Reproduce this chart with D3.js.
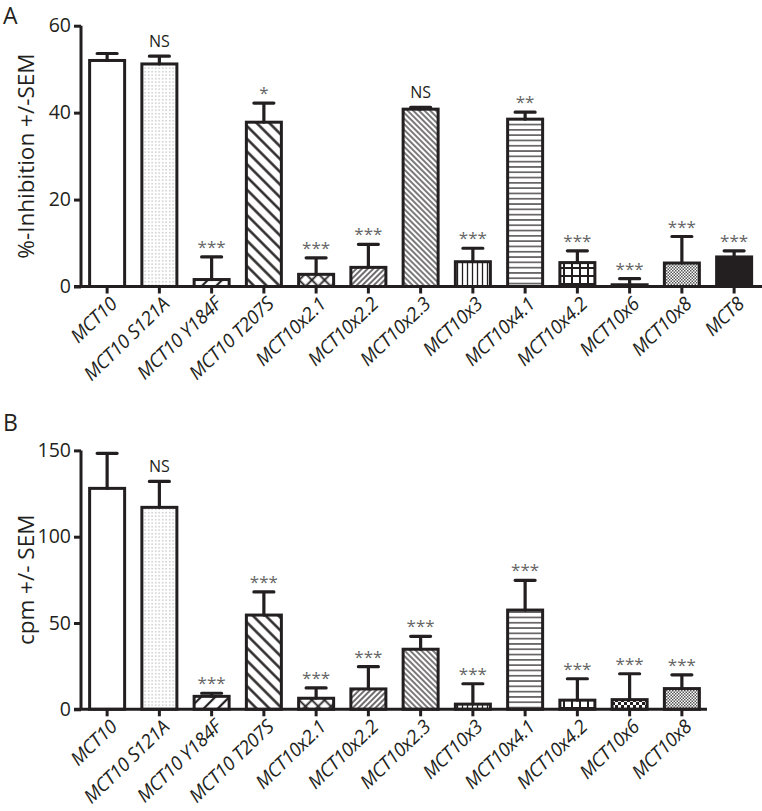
<!DOCTYPE html>
<html><head><meta charset="utf-8">
<script src="https://cdn.jsdelivr.net/npm/d3@7"></script>
<style>body{margin:0;background:#fff}svg{display:block}</style>
</head><body><svg id="c" width="762" height="811"></svg>
<script>
// ---- data ----
const catsA = ["MCT10","MCT10 S121A","MCT10 Y184F","MCT10 T207S","MCT10x2.1","MCT10x2.2","MCT10x2.3","MCT10x3","MCT10x4.1","MCT10x4.2","MCT10x6","MCT10x8","MCT8"];
const valsA = [52.0, 51.2, 1.6, 37.8, 2.8, 4.4, 40.8, 5.7, 38.5, 5.5, 0.4, 5.4, 6.8];
const errA  = [1.6, 1.8, 5.2, 4.4, 3.8, 5.3, 0.4, 3.1, 1.6, 2.7, 1.4, 6.1, 1.4];
const sigA  = ["", "NS", "***", "*", "***", "***", "NS", "***", "**", "***", "***", "***", "***"];
const ticksA = [0, 20, 40, 60];

const catsB = ["MCT10","MCT10 S121A","MCT10 Y184F","MCT10 T207S","MCT10x2.1","MCT10x2.2","MCT10x2.3","MCT10x3","MCT10x4.1","MCT10x4.2","MCT10x6","MCT10x8"];
const valsB = [128, 117, 7.5, 54.6, 6.4, 11.8, 34.8, 3.0, 57.5, 5.3, 5.6, 12.0];
const errB  = [20.3, 15.0, 1.8, 13.4, 6.0, 12.9, 7.5, 11.8, 17.2, 12.4, 15.0, 8.0];
const sigB  = ["", "NS", "***", "***", "***", "***", "***", "***", "***", "***", "***", "***"];
const ticksB = [0, 50, 100, 150];

// ---- styles ----
const ink = "#231f20";
const patternOf = {
  "MCT10":"none","MCT10 S121A":"dots","MCT10 Y184F":"wideFwd","MCT10 T207S":"wideBack",
  "MCT10x2.1":"diamond","MCT10x2.2":"fineFwd","MCT10x2.3":"fineBack","MCT10x3":"vert",
  "MCT10x4.1":"horiz","MCT10x4.2":"grid","MCT10x6":"check","MCT10x8":"fineCheck","MCT8":"solid"
};
const svg = d3.select("#c");
const defs = svg.append("defs");
function linePat(id, spacing, angle, sw, color) {
  const p = defs.append("pattern").attr("id", id).attr("patternUnits","userSpaceOnUse")
    .attr("width", spacing).attr("height", spacing)
    .attr("patternTransform", `rotate(${angle})`);
  p.append("rect").attr("width", spacing).attr("height", spacing).attr("fill","#fff");
  p.append("line").attr("x1", spacing/2).attr("x2", spacing/2).attr("y1", 0).attr("y2", spacing)
    .attr("stroke", color).attr("stroke-width", sw);
  return p;
}
linePat("wideFwd", 10, 45, 2.2, ink);
linePat("wideBack", 9, -45, 2.4, ink);
linePat("fineFwd", 4, 45, 1.3, ink);
linePat("fineBack", 4, -45, 1.2, ink);
linePat("vert", 5, 0, 1.3, ink);
linePat("horiz", 5.3, 90, 1.2, ink);
{
  const p = defs.append("pattern").attr("id","diamond").attr("patternUnits","userSpaceOnUse")
    .attr("width", 9).attr("height", 9).attr("patternTransform","rotate(45)");
  p.append("rect").attr("width",9).attr("height",9).attr("fill","#fff");
  p.append("line").attr("x1",4.5).attr("x2",4.5).attr("y1",0).attr("y2",9).attr("stroke",ink).attr("stroke-width",1.8);
  p.append("line").attr("y1",4.5).attr("y2",4.5).attr("x1",0).attr("x2",9).attr("stroke",ink).attr("stroke-width",1.8);
}
{
  const p = defs.append("pattern").attr("id","grid").attr("patternUnits","userSpaceOnUse")
    .attr("width", 8).attr("height", 8);
  p.append("rect").attr("width",8).attr("height",8).attr("fill","#fff");
  p.append("line").attr("x1",4).attr("x2",4).attr("y1",0).attr("y2",8).attr("stroke",ink).attr("stroke-width",2);
  p.append("line").attr("y1",4).attr("y2",4).attr("x1",0).attr("x2",8).attr("stroke",ink).attr("stroke-width",2);
}
{
  const p = defs.append("pattern").attr("id","dots").attr("patternUnits","userSpaceOnUse")
    .attr("width", 3.5).attr("height", 3.5);
  p.append("rect").attr("width",3.5).attr("height",3.5).attr("fill","#fff");
  p.append("rect").attr("x",1.2).attr("y",1.2).attr("width",1).attr("height",1).attr("fill","#888");
}
function checkPat(id, s, color) {
  const p = defs.append("pattern").attr("id",id).attr("patternUnits","userSpaceOnUse")
    .attr("width", 2*s).attr("height", 2*s);
  p.append("rect").attr("width",2*s).attr("height",2*s).attr("fill","#fff");
  p.append("rect").attr("width",s).attr("height",s).attr("fill",color);
  p.append("rect").attr("x",s).attr("y",s).attr("width",s).attr("height",s).attr("fill",color);
}
checkPat("check", 3, ink);
checkPat("fineCheck", 1.5, "#555");

function fillOf(c) {
  const p = patternOf[c];
  if (p === "none") return "#fff";
  if (p === "solid") return ink;
  return `url(#${p})`;
}

const font = "'Open Sans', 'Noto Sans', sans-serif";

function panel(cfg) {
  const { cats, vals, errs, sigs, ticks, yMax, y0, yTop, xRight, letter, letterY, title, titleSize } = cfg;
  const xLeft = 81;
  const step = 52.25;
  const x = d3.scaleBand().domain(cats).range([xLeft, xLeft + step * cats.length]).paddingInner(0.33).paddingOuter(0.165);
  const y = d3.scaleLinear().domain([0, yMax]).range([y0, yTop]);
  const g = svg.append("g");

  // bars
  g.selectAll("rect.bar").data(cats).join("rect")
    .attr("x", d => x(d)).attr("width", x.bandwidth())
    .attr("y", (d,i) => y(vals[i])).attr("height", (d,i) => y(0) - y(vals[i]))
    .attr("fill", d => fillOf(d)).attr("stroke", ink).attr("stroke-width", 3);

  // error bars
  const cap = 20;
  g.selectAll("path.err").data(cats).join("path")
    .attr("d", (d,i) => {
      const cx = x(d) + x.bandwidth()/2;
      const yt = y(vals[i] + errs[i]);
      return `M${cx},${y(vals[i])}V${yt}M${cx-cap/2},${yt}H${cx+cap/2}`;
    })
    .attr("fill","none").attr("stroke", ink).attr("stroke-width", 3.2).attr("stroke-linecap","round");

  // significance
  g.selectAll("text.sig").data(cats).join("text")
    .attr("x", d => x(d) + x.bandwidth()/2)
    .attr("y", (d,i) => y(vals[i] + errs[i]) - (sigs[i] === "NS" ? 9 : 4))
    .attr("text-anchor","middle")
    .attr("font-family", font)
    .attr("font-size", (d,i) => sigs[i] === "NS" ? 16 : 17)
    .attr("fill", (d,i) => sigs[i] === "NS" ? ink : "#666")
    .text((d,i) => sigs[i]);

  // y axis
  const ya = g.append("g").attr("transform", `translate(${xLeft},0)`)
    .call(d3.axisLeft(y).tickValues(ticks).tickSize(7).tickSizeOuter(0).tickPadding(3));
  ya.select(".domain").attr("stroke", ink).attr("stroke-width", 3).attr("d", `M0,${y(0)}V${y(yMax)}`);
  ya.selectAll(".tick line").attr("stroke", ink).attr("stroke-width", 3);
  ya.selectAll(".tick text").attr("font-family", font).attr("font-size", 19.5).attr("fill", ink);

  // x axis
  const xa = g.append("g").attr("transform", `translate(0,${y0})`)
    .call(d3.axisBottom(x).tickSize(7).tickSizeOuter(0).tickPadding(6));
  xa.select(".domain").attr("stroke", ink).attr("stroke-width", 3).attr("d", `M${xLeft-7},0H${xRight}`);
  xa.selectAll(".tick line").attr("stroke", ink).attr("stroke-width", 3);
  xa.selectAll(".tick text")
    .attr("font-family", font).attr("font-size", 19).attr("font-style","italic").attr("fill", ink)
    .attr("letter-spacing", -0.4)
    .attr("text-anchor","end").attr("dy", null).attr("y", 0)
    .attr("transform", "translate(11,19) rotate(-44)");

  // y title
  svg.append("text").attr("transform", `translate(34,${(y0 + yTop)/2}) rotate(-90)`)
    .attr("text-anchor","middle").attr("font-family", font).attr("font-size", titleSize).attr("fill", ink)
    .text(title);
  // panel letter
  svg.append("text").attr("x", 3).attr("y", letterY).attr("font-family", font).attr("font-size", 23)
    .attr("fill", ink).text(letter);
}

panel({ cats: catsA, vals: valsA, errs: errA, sigs: sigA, ticks: ticksA, yMax: 60, y0: 286.5, yTop: 25.7,
  xRight: 762, letter: "A", letterY: 24, title: "%-Inhibition +/-SEM", titleSize: 22.5 });
panel({ cats: catsB, vals: valsB, errs: errB, sigs: sigB, ticks: ticksB, yMax: 150, y0: 709.3, yTop: 450.4,
  xRight: 707, letter: "B", letterY: 431, title: "cpm +/- SEM", titleSize: 22.5 });
</script>
</body></html>
